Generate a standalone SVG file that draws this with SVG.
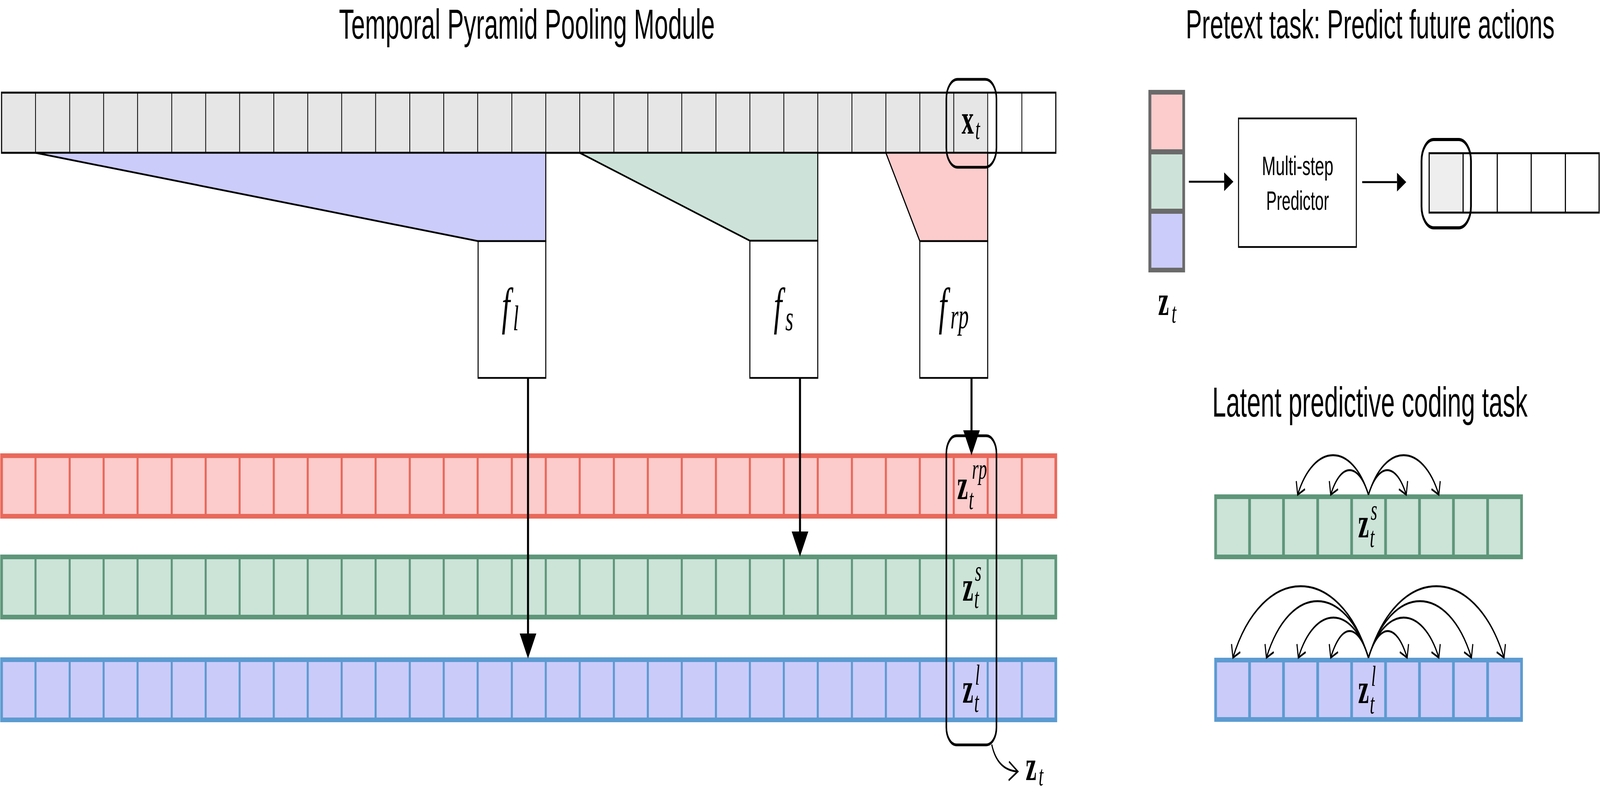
<svg xmlns="http://www.w3.org/2000/svg" width="7118" height="2024" viewBox="0 0 7118 2024" preserveAspectRatio="none" style="width:100vw;height:100vh;display:block">
<style>
.tt{font-family:"Liberation Sans",Arial,sans-serif;fill:#000}
.mb{font-family:"Liberation Serif","Times New Roman",serif;font-weight:bold;font-style:normal;font-size:108px;fill:#000}
.mi{font-family:"Liberation Serif","Times New Roman",serif;font-style:italic;font-weight:normal;fill:#000}
.s75{font-size:75px}
.cellrow{stroke:#000;stroke-width:5}
.div{stroke:#000;stroke-width:3.5}
.box{fill:#fff;stroke:#000;stroke-width:4.5}
.rnd{fill:none;stroke:#000;stroke-width:7}
.redrow{fill:#fccbcb;stroke:#e8695b;stroke-width:12}
.grnrow{fill:#cce3d8;stroke:#5e9679;stroke-width:12}
.blurow{fill:#cbcbfa;stroke:#5c9bd1;stroke-width:12}
.rdiv{stroke:#e8695b;stroke-width:9}
.gdiv{stroke:#5e9679;stroke-width:9}
.bdiv{stroke:#5c9bd1;stroke-width:9}
.ldivg{stroke:#5e9679;stroke-width:12}
.ldivb{stroke:#5c9bd1;stroke-width:12}
.arrow{stroke:#000;stroke-width:9;fill:none;marker-end:url(#tri)}
.sarrow{stroke:#000;stroke-width:5;fill:none;marker-end:url(#stri)}
.arc{stroke:#000;stroke-width:5;fill:none;marker-end:url(#vee)}
</style>
<defs>
<marker id="tri" markerUnits="userSpaceOnUse" orient="auto" viewBox="-2 -40 70 80" markerWidth="70" markerHeight="80" refX="0" refY="0" overflow="visible"><path d="M0,-37 L64,0 L0,37 z" fill="#000"/></marker>
<marker id="stri" markerUnits="userSpaceOnUse" orient="auto" viewBox="-2 -26 46 52" markerWidth="46" markerHeight="52" refX="0" refY="0" overflow="visible"><path d="M0,-24 L41,0 L0,24 z" fill="#000"/></marker>
<marker id="vee" markerUnits="userSpaceOnUse" orient="auto" viewBox="-40 -40 80 80" markerWidth="80" markerHeight="80" refX="0" refY="0" overflow="visible"><path d="M-28,-22 L0,0 L-28,22" fill="none" stroke="#000" stroke-width="5"/></marker>
<marker id="vee2" markerUnits="userSpaceOnUse" orient="auto" viewBox="-50 -40 90 80" markerWidth="90" markerHeight="80" refX="0" refY="0" overflow="visible"><path d="M-40,-24 L0,0 L-40,24" fill="none" stroke="#000" stroke-width="5"/></marker>
</defs>
<rect x="0" y="0" width="7118" height="2024" fill="#fff"/>

<g id="titles">
<text class="tt" x="1508" y="99" font-size="108" textLength="1672" lengthAdjust="spacingAndGlyphs">Temporal Pyramid Pooling Module</text>
<text class="tt" x="5275" y="98" font-size="104" textLength="1641" lengthAdjust="spacingAndGlyphs">Pretext task: Predict future actions</text>
<text class="tt" x="5393" y="1066" font-size="108" textLength="1403" lengthAdjust="spacingAndGlyphs">Latent predictive coding task</text>
</g>

<g id="input-sequence">
<rect x="7" y="237" width="4387" height="154" fill="#e6e6e6"/>
<rect x="4394" y="237" width="303" height="154" fill="#fff"/>
<g class="div">
<line x1="158" y1="237" x2="158" y2="391"/><line x1="310" y1="237" x2="310" y2="391"/><line x1="461" y1="237" x2="461" y2="391"/><line x1="612" y1="237" x2="612" y2="391"/><line x1="764" y1="237" x2="764" y2="391"/><line x1="915" y1="237" x2="915" y2="391"/><line x1="1066" y1="237" x2="1066" y2="391"/><line x1="1218" y1="237" x2="1218" y2="391"/><line x1="1369" y1="237" x2="1369" y2="391"/><line x1="1520" y1="237" x2="1520" y2="391"/><line x1="1671" y1="237" x2="1671" y2="391"/><line x1="1823" y1="237" x2="1823" y2="391"/><line x1="1974" y1="237" x2="1974" y2="391"/><line x1="2125" y1="237" x2="2125" y2="391"/><line x1="2277" y1="237" x2="2277" y2="391"/><line x1="2428" y1="237" x2="2428" y2="391"/><line x1="2579" y1="237" x2="2579" y2="391"/><line x1="2731" y1="237" x2="2731" y2="391"/><line x1="2882" y1="237" x2="2882" y2="391"/><line x1="3033" y1="237" x2="3033" y2="391"/><line x1="3185" y1="237" x2="3185" y2="391"/><line x1="3336" y1="237" x2="3336" y2="391"/><line x1="3487" y1="237" x2="3487" y2="391"/><line x1="3638" y1="237" x2="3638" y2="391"/><line x1="3790" y1="237" x2="3790" y2="391"/><line x1="3941" y1="237" x2="3941" y2="391"/><line x1="4092" y1="237" x2="4092" y2="391"/><line x1="4243" y1="237" x2="4243" y2="391"/><line x1="4394" y1="237" x2="4394" y2="391"/><line x1="4546" y1="237" x2="4546" y2="391"/>
</g>
<rect class="cellrow" x="7" y="237" width="4690" height="154" fill="none"/>
</g>

<g id="pool-long">
<polygon points="158,391 2428,391 2428,617 2127,617" fill="#ccccfa" stroke="#000" stroke-width="4.5"/>
</g>
<g id="pool-short">
<polygon points="2579,391 3638,391 3638,616 3336,616" fill="#cde3d9" stroke="#000" stroke-width="4.5"/>
</g>
<g id="pool-recent">
<polygon points="3941,391 4394,391 4394,617 4092,617" fill="#fccccc" stroke="#000" stroke-width="4.5"/>
</g>

<g id="f-l">
<rect class="box" x="2127" y="617" width="301" height="350"/>
<text class="mi" x="2232" y="828" font-size="132">f<tspan x="2282" y="845" font-size="92">l</tspan></text>
</g>
<g id="f-s">
<rect class="box" x="3336" y="616" width="302" height="351"/>
<text class="mi" x="3442" y="828" font-size="132">f<tspan x="3494" y="845" font-size="92">s</tspan></text>
</g>
<g id="f-rp">
<rect class="box" x="4092" y="617" width="302" height="350"/>
<text class="mi" x="4176" y="828" font-size="132">f<tspan x="4228" y="840" font-size="92">rp</tspan></text>
</g>

<g id="x-t">
<rect class="rnd" x="4210" y="203" width="223" height="225" rx="50" ry="50"/>
<text class="mb" x="4278" y="342">x<tspan class="mi s75" x="4339" y="356">t</tspan></text>
</g>

<g id="row-rp">
<rect class="redrow" x="7" y="1166" width="4690" height="155"/>
<g class="rdiv">
<line x1="158" y1="1166" x2="158" y2="1321"/><line x1="310" y1="1166" x2="310" y2="1321"/><line x1="461" y1="1166" x2="461" y2="1321"/><line x1="612" y1="1166" x2="612" y2="1321"/><line x1="764" y1="1166" x2="764" y2="1321"/><line x1="915" y1="1166" x2="915" y2="1321"/><line x1="1066" y1="1166" x2="1066" y2="1321"/><line x1="1218" y1="1166" x2="1218" y2="1321"/><line x1="1369" y1="1166" x2="1369" y2="1321"/><line x1="1520" y1="1166" x2="1520" y2="1321"/><line x1="1671" y1="1166" x2="1671" y2="1321"/><line x1="1823" y1="1166" x2="1823" y2="1321"/><line x1="1974" y1="1166" x2="1974" y2="1321"/><line x1="2125" y1="1166" x2="2125" y2="1321"/><line x1="2277" y1="1166" x2="2277" y2="1321"/><line x1="2428" y1="1166" x2="2428" y2="1321"/><line x1="2579" y1="1166" x2="2579" y2="1321"/><line x1="2731" y1="1166" x2="2731" y2="1321"/><line x1="2882" y1="1166" x2="2882" y2="1321"/><line x1="3033" y1="1166" x2="3033" y2="1321"/><line x1="3185" y1="1166" x2="3185" y2="1321"/><line x1="3336" y1="1166" x2="3336" y2="1321"/><line x1="3487" y1="1166" x2="3487" y2="1321"/><line x1="3638" y1="1166" x2="3638" y2="1321"/><line x1="3790" y1="1166" x2="3790" y2="1321"/><line x1="3941" y1="1166" x2="3941" y2="1321"/><line x1="4092" y1="1166" x2="4092" y2="1321"/><line x1="4243" y1="1166" x2="4243" y2="1321"/><line x1="4394" y1="1166" x2="4394" y2="1321"/><line x1="4546" y1="1166" x2="4546" y2="1321"/>
</g>
<text class="mb" x="4258" y="1277">z<tspan class="mi s75" x="4324" y="1225">rp</tspan><tspan class="mi s75" x="4310" y="1303">t</tspan></text>
</g>

<g id="row-s">
<rect class="grnrow" x="7" y="1425" width="4690" height="154"/>
<g class="gdiv">
<line x1="158" y1="1425" x2="158" y2="1579"/><line x1="310" y1="1425" x2="310" y2="1579"/><line x1="461" y1="1425" x2="461" y2="1579"/><line x1="612" y1="1425" x2="612" y2="1579"/><line x1="764" y1="1425" x2="764" y2="1579"/><line x1="915" y1="1425" x2="915" y2="1579"/><line x1="1066" y1="1425" x2="1066" y2="1579"/><line x1="1218" y1="1425" x2="1218" y2="1579"/><line x1="1369" y1="1425" x2="1369" y2="1579"/><line x1="1520" y1="1425" x2="1520" y2="1579"/><line x1="1671" y1="1425" x2="1671" y2="1579"/><line x1="1823" y1="1425" x2="1823" y2="1579"/><line x1="1974" y1="1425" x2="1974" y2="1579"/><line x1="2125" y1="1425" x2="2125" y2="1579"/><line x1="2277" y1="1425" x2="2277" y2="1579"/><line x1="2428" y1="1425" x2="2428" y2="1579"/><line x1="2579" y1="1425" x2="2579" y2="1579"/><line x1="2731" y1="1425" x2="2731" y2="1579"/><line x1="2882" y1="1425" x2="2882" y2="1579"/><line x1="3033" y1="1425" x2="3033" y2="1579"/><line x1="3185" y1="1425" x2="3185" y2="1579"/><line x1="3336" y1="1425" x2="3336" y2="1579"/><line x1="3487" y1="1425" x2="3487" y2="1579"/><line x1="3638" y1="1425" x2="3638" y2="1579"/><line x1="3790" y1="1425" x2="3790" y2="1579"/><line x1="3941" y1="1425" x2="3941" y2="1579"/><line x1="4092" y1="1425" x2="4092" y2="1579"/><line x1="4243" y1="1425" x2="4243" y2="1579"/><line x1="4394" y1="1425" x2="4394" y2="1579"/><line x1="4546" y1="1425" x2="4546" y2="1579"/>
</g>
<text class="mb" x="4282" y="1537">z<tspan class="mi s75" x="4337" y="1486">s</tspan><tspan class="mi s75" x="4334" y="1556">t</tspan></text>
</g>

<g id="row-l">
<rect class="blurow" x="7" y="1688" width="4690" height="154"/>
<g class="bdiv">
<line x1="158" y1="1688" x2="158" y2="1842"/><line x1="310" y1="1688" x2="310" y2="1842"/><line x1="461" y1="1688" x2="461" y2="1842"/><line x1="612" y1="1688" x2="612" y2="1842"/><line x1="764" y1="1688" x2="764" y2="1842"/><line x1="915" y1="1688" x2="915" y2="1842"/><line x1="1066" y1="1688" x2="1066" y2="1842"/><line x1="1218" y1="1688" x2="1218" y2="1842"/><line x1="1369" y1="1688" x2="1369" y2="1842"/><line x1="1520" y1="1688" x2="1520" y2="1842"/><line x1="1671" y1="1688" x2="1671" y2="1842"/><line x1="1823" y1="1688" x2="1823" y2="1842"/><line x1="1974" y1="1688" x2="1974" y2="1842"/><line x1="2125" y1="1688" x2="2125" y2="1842"/><line x1="2277" y1="1688" x2="2277" y2="1842"/><line x1="2428" y1="1688" x2="2428" y2="1842"/><line x1="2579" y1="1688" x2="2579" y2="1842"/><line x1="2731" y1="1688" x2="2731" y2="1842"/><line x1="2882" y1="1688" x2="2882" y2="1842"/><line x1="3033" y1="1688" x2="3033" y2="1842"/><line x1="3185" y1="1688" x2="3185" y2="1842"/><line x1="3336" y1="1688" x2="3336" y2="1842"/><line x1="3487" y1="1688" x2="3487" y2="1842"/><line x1="3638" y1="1688" x2="3638" y2="1842"/><line x1="3790" y1="1688" x2="3790" y2="1842"/><line x1="3941" y1="1688" x2="3941" y2="1842"/><line x1="4092" y1="1688" x2="4092" y2="1842"/><line x1="4243" y1="1688" x2="4243" y2="1842"/><line x1="4394" y1="1688" x2="4394" y2="1842"/><line x1="4546" y1="1688" x2="4546" y2="1842"/>
</g>
<text class="mb" x="4282" y="1798">z<tspan class="mi s75" x="4338" y="1752">l</tspan><tspan class="mi s75" x="4334" y="1822">t</tspan></text>
</g>

<g id="z-t-select">
<rect class="rnd" x="4210" y="1115" width="223" height="791" rx="45" ry="45"/>
</g>
<g id="z-t-out">
<text class="mb" x="4563" y="1996">z<tspan class="mi s75" x="4621" y="2010">t</tspan></text>
</g>

<g id="z-t-stack">
<rect x="5109" y="230" width="163" height="467" fill="#6a6a6a"/>
<rect x="5122" y="242" width="138" height="140" fill="#fccccc"/>
<rect x="5122" y="395" width="138" height="139" fill="#cde3d9"/>
<rect x="5122" y="547" width="138" height="138" fill="#ccccfa"/>
<text class="mb" x="5152" y="806">z<tspan class="mi s75" x="5212" y="826">t</tspan></text>
</g>

<g id="predictor">
<rect class="box" x="5510" y="303" width="524" height="329"/>
<text class="tt" x="5614" y="448" font-size="68" textLength="318" lengthAdjust="spacingAndGlyphs">Multi-step</text>
<text class="tt" x="5633" y="537" font-size="68" textLength="279" lengthAdjust="spacingAndGlyphs">Predictor</text>
</g>

<g id="future-actions">
<rect x="6358" y="392" width="151" height="152" fill="#eeeeee"/>
<g stroke="#000" stroke-width="5">
<line x1="6509" y1="392" x2="6509" y2="544"/><line x1="6661" y1="392" x2="6661" y2="544"/><line x1="6812" y1="392" x2="6812" y2="544"/><line x1="6964" y1="392" x2="6964" y2="544"/>
</g>
<rect x="6358" y="392" width="756" height="152" fill="none" stroke="#000" stroke-width="5"/>
<rect x="6324" y="357" width="220" height="226" rx="55" ry="55" fill="none" stroke="#000" stroke-width="8"/>
</g>

<g id="latent-short">
<rect class="grnrow" x="5408" y="1271" width="1361" height="154"/>
<g class="ldivg">
<line x1="5559" y1="1271" x2="5559" y2="1425"/><line x1="5710" y1="1271" x2="5710" y2="1425"/><line x1="5862" y1="1271" x2="5862" y2="1425"/><line x1="6013" y1="1271" x2="6013" y2="1425"/><line x1="6164" y1="1271" x2="6164" y2="1425"/><line x1="6315" y1="1271" x2="6315" y2="1425"/><line x1="6466" y1="1271" x2="6466" y2="1425"/><line x1="6618" y1="1271" x2="6618" y2="1425"/>
</g>
<text class="mb" x="6042" y="1375">z<tspan class="mi s75" x="6098" y="1330">s</tspan><tspan class="mi s75" x="6094" y="1400">t</tspan></text>
</g>

<g id="latent-long">
<rect class="blurow" x="5408" y="1689" width="1361" height="152"/>
<g class="ldivb">
<line x1="5559" y1="1689" x2="5559" y2="1841"/><line x1="5710" y1="1689" x2="5710" y2="1841"/><line x1="5862" y1="1689" x2="5862" y2="1841"/><line x1="6013" y1="1689" x2="6013" y2="1841"/><line x1="6164" y1="1689" x2="6164" y2="1841"/><line x1="6315" y1="1689" x2="6315" y2="1841"/><line x1="6466" y1="1689" x2="6466" y2="1841"/><line x1="6618" y1="1689" x2="6618" y2="1841"/>
</g>
<text class="mb" x="6042" y="1799">z<tspan class="mi s75" x="6100" y="1755">l</tspan><tspan class="mi s75" x="6094" y="1826">t</tspan></text>
</g>

<g id="connectors">
<line class="arrow" x1="2349" y1="967" x2="2349" y2="1621"/>
<line class="arrow" x1="3559" y1="967" x2="3559" y2="1360"/>
<line class="arrow" x1="4322" y1="967" x2="4322" y2="1101"/>
<path d="M4412,1905 C4428,1948 4465,1972 4528,1974" fill="none" stroke="#000" stroke-width="5" marker-end="url(#vee2)"/>
<line class="sarrow" x1="5289" y1="465" x2="5446" y2="465"/>
<line class="sarrow" x1="6060" y1="466" x2="6215" y2="466"/>
<path class="arc" d="M6088,1266 C6016,1131 5845,1131 5773,1266"/>
<path class="arc" d="M6088,1266 C6043,1182 5965,1182 5920,1266"/>
<path class="arc" d="M6088,1266 C6133,1182 6211,1182 6256,1266"/>
<path class="arc" d="M6088,1266 C6160,1131 6329,1131 6401,1266"/>
<path class="arc" d="M6088,1683 C5958,1439 5615,1439 5485,1683"/>
<path class="arc" d="M6088,1683 C5985,1490 5737,1490 5634,1683"/>
<path class="arc" d="M6088,1683 C6015,1546 5849,1546 5776,1683"/>
<path class="arc" d="M6088,1683 C6040,1592 5968,1592 5920,1683"/>
<path class="arc" d="M6088,1683 C6136,1592 6212,1592 6260,1683"/>
<path class="arc" d="M6088,1683 C6161,1546 6328,1546 6401,1683"/>
<path class="arc" d="M6088,1683 C6191,1490 6443,1490 6546,1683"/>
<path class="arc" d="M6088,1683 C6218,1439 6561,1439 6691,1683"/>
</g>
</svg>
